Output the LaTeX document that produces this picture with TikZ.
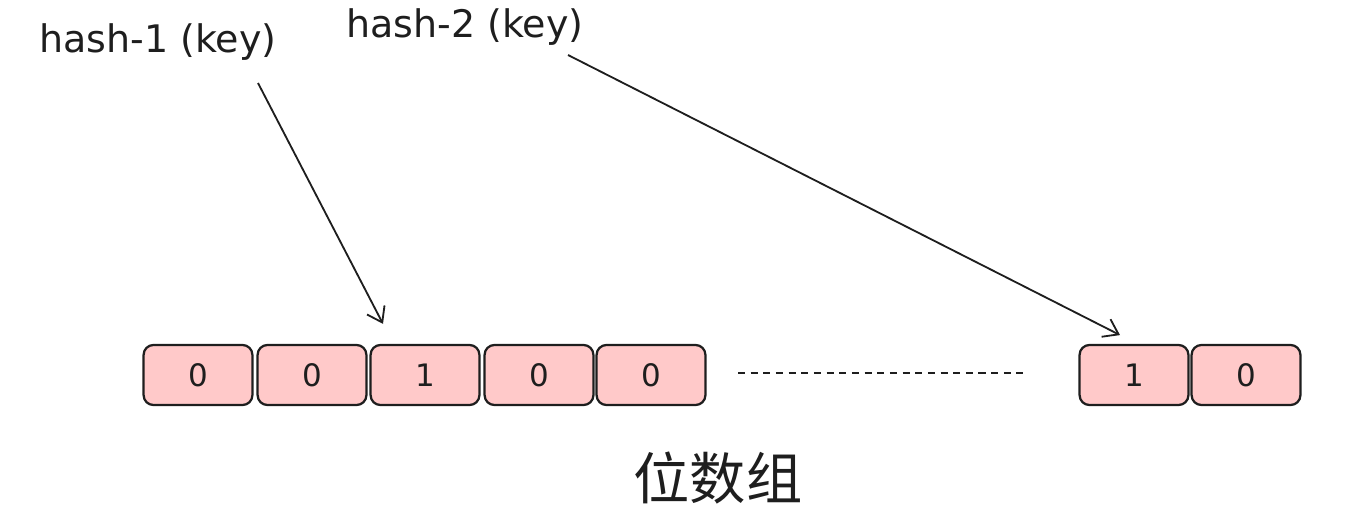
\documentclass[tikz,border=0pt]{standalone}
\usepackage{fontspec}
\setmainfont{DejaVu Sans}
\newfontfamily\cjk{Noto Sans CJK SC}
\usepackage{tikz}
\usetikzlibrary{arrows.meta}
\definecolor{ink}{HTML}{1E1E1E}
\definecolor{bitpink}{HTML}{FFC9C9}

\begin{document}
\begin{tikzpicture}[x=0.025cm,y=-0.025cm,
        bit/.style={draw=ink,fill=bitpink,line width=1.6pt,rounded corners=7pt,
            minimum width=2.72cm,minimum height=1.5cm,inner sep=0pt,
            text=ink,font=\fontsize{22}{26}\selectfont},
        hashlabel/.style={text=ink,inner sep=0pt,font=\fontsize{27}{32}\selectfont},
        pointer/.style={draw=ink,line width=1.3pt,-{Straight Barb[length=10pt,width=14pt]}}
    ]
    \useasboundingbox (0,0) rectangle (1367,522);
    % bit cells
    \node [bit] (b1) at (198,375) {0};
    \node [bit] (b2) at (312,375) {0};
    \node [bit] (b3) at (425,375) {1};
    \node [bit] (b4) at (539,375) {0};
    \node [bit] (b5) at (651,375) {0};
    \node [bit] (bm) at (1134,375) {1};
    \node [bit] (bn) at (1246,375) {0};
    \coordinate (gapl) at (738,373);
    \coordinate (gapr) at (1025,373);
    \draw [ink,line width=0.9pt,dash pattern=on 5pt off 4pt] (gapl) -- (gapr);
    % hash labels
    \node [hashlabel] (h1) at (158,42) {hash-1 (key)};
    \node [hashlabel] (h2) at (465,27) {hash-2 (key)};
    \coordinate (t1) at (258,83);
    \coordinate (t2) at (568,55);
    \draw [pointer] (t1) -- ([xshift=-1.05cm,yshift=0.5cm]b3.north);
    \draw [pointer] (t2) -- ([xshift=-0.35cm,yshift=0.22cm]bm.north);
    % caption
    \node [text=ink,font=\cjk\fontsize{40}{46}\selectfont] (cap) at (718,478) {位数组};
\end{tikzpicture}
\end{document}
